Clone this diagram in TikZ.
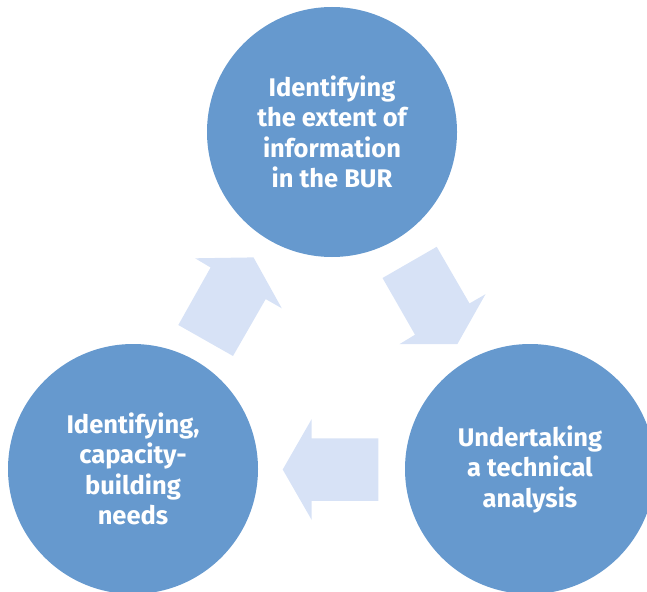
\documentclass[tikz,border=0pt]{standalone}
\usepackage{fontspec}
\setmainfont{Fira Sans}
\definecolor{stageblue}{RGB}{102,153,206}
\definecolor{flowblue}{RGB}{215,226,246}

\begin{document}
\begin{tikzpicture}[x=1pt,y=-1pt,
  stage/.style={circle,fill=stageblue,minimum size=250pt,inner sep=0pt,
    text=white,align=center,font=\bfseries\fontsize{25.5}{30.5}\selectfont},
  flow/.style={fill=flowblue}]
\useasboundingbox (0,0) rectangle (647,591);
\clip (0,0) rectangle (647,591);
\node[stage] (extent) at (332,132) {Identifying\\the extent of\\information\\in the BUR};
\node[stage] (analysis) at (530,469) {Undertaking\\a technical\\analysis};
\node[stage] (needs) at (133,469) {Identifying,\\capacity-\\building\\needs};
\fill[flow] (382.5,278) -- (436.7,246.8) -- (469.5,303.4) -- (485.5,294.2)
  -- (457.3,344.2) -- (399.4,344.2) -- (415,334.7) -- cycle;
\fill[flow] (378.4,438.3) -- (311.7,438.3) -- (311.7,419) -- (282.7,469.5)
  -- (311.7,520) -- (311.7,500.8) -- (378.4,500.8) -- cycle;
\fill[flow] (233,356) -- (178.3,325) -- (210.6,267.5) -- (195.1,258.3)
  -- (253.5,257.4) -- (281.8,308.3) -- (265.7,299.1) -- cycle;
\end{tikzpicture}
\end{document}
